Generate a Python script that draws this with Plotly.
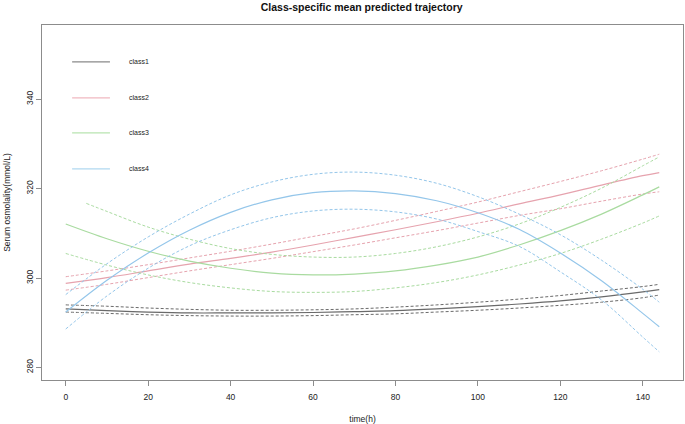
import plotly.graph_objects as go

# ---- data ----
time = [0, 10, 20, 30, 40, 50, 60, 70, 80, 90, 100, 110, 120, 130, 140, 144]

class1_mean  = [293.1, 292.7, 292.4, 292.2, 292.2, 292.2, 292.3, 292.5, 292.7, 293.1, 293.6, 294.2, 294.9, 295.8, 296.9, 297.4]
class1_upper = [294.0, 293.7, 293.3, 293.0, 292.8, 292.8, 292.9, 293.1, 293.5, 294.0, 294.6, 295.3, 296.1, 297.1, 298.1, 298.6]
class1_lower = [292.4, 292.1, 291.8, 291.6, 291.5, 291.5, 291.6, 291.8, 292.0, 292.4, 292.8, 293.3, 293.9, 294.6, 295.6, 296.2]

class2_mean  = [298.8, 300.1, 301.6, 303.1, 304.4, 305.8, 307.4, 309.1, 310.8, 312.6, 314.5, 316.6, 318.6, 320.8, 322.9, 323.6]
class2_upper = [300.3, 301.6, 303.0, 304.5, 306.0, 307.6, 309.3, 311.0, 312.9, 314.9, 317.0, 319.3, 321.6, 324.0, 326.6, 327.7]
class2_lower = [297.3, 298.6, 300.1, 301.6, 303.0, 304.4, 305.9, 307.4, 309.0, 310.6, 312.3, 314.0, 315.5, 317.2, 318.8, 319.3]

class3_mean  = [312.1, 308.8, 306.0, 303.8, 302.2, 301.1, 300.7, 300.9, 301.6, 302.9, 304.7, 307.4, 310.6, 314.3, 318.6, 320.4]
class3_upper_time = [5, 10, 20, 30, 40, 50, 60, 70, 80, 90, 100, 110, 120, 130, 140, 144]
class3_upper = [316.7, 314.9, 311.4, 308.7, 306.6, 305.3, 304.7, 304.7, 305.5, 307.0, 309.2, 312.1, 315.8, 320.1, 325.1, 327.1]
class3_lower = [305.5, 302.9, 300.7, 299.0, 297.8, 297.0, 296.8, 297.0, 297.8, 299.0, 300.7, 302.9, 305.5, 308.7, 312.3, 313.9]

class4_mean  = [292.4, 299.5, 305.6, 310.7, 314.7, 317.5, 319.1, 319.5, 318.9, 317.3, 314.6, 310.9, 305.6, 299.4, 292.1, 289.1]
class4_upper = [296.3, 303.2, 309.2, 314.3, 318.6, 321.5, 323.2, 323.7, 323.0, 321.2, 318.2, 314.3, 309.7, 304.0, 297.5, 294.6]
class4_lower = [288.6, 296.0, 302.2, 307.2, 310.8, 313.5, 315.0, 315.4, 314.8, 313.2, 310.4, 307.1, 301.4, 295.1, 286.8, 283.5]

class_names = ["class1", "class2", "class3", "class4"]
x_ticks = [0, 20, 40, 60, 80, 100, 120, 140]
y_ticks = [280, 300, 320, 340]

# ---- styles ----
colors = ["#6a6a6a", "#e6a3ae", "#a9dba0", "#94c6ea"]
legend_colors = ["#8a8a8a", "#f0b8c0", "#b8e4b0", "#b0d8f0"]
FONT = "Liberation Sans, Arial, sans-serif"
DASH = "3px,2px"

series = [
    (time, class1_mean, time, class1_upper, time, class1_lower),
    (time, class2_mean, time, class2_upper, time, class2_lower),
    (time, class3_mean, class3_upper_time, class3_upper, time, class3_lower),
    (time, class4_mean, time, class4_upper, time, class4_lower),
]

fig = go.Figure()
for i, (tm, m, tu, u, tl, l) in enumerate(series):
    c = colors[i]
    fig.add_trace(go.Scatter(x=tu, y=u, mode="lines", line=dict(color=c, width=1, dash=DASH, shape="spline"),
                             showlegend=False, hoverinfo="skip"))
    fig.add_trace(go.Scatter(x=tl, y=l, mode="lines", line=dict(color=c, width=1, dash=DASH, shape="spline"),
                             showlegend=False, hoverinfo="skip"))
    fig.add_trace(go.Scatter(x=tm, y=m, mode="lines", line=dict(color=c, width=1.2, shape="spline"),
                             name=class_names[i], showlegend=False))

# ---- manual legend (R-style) ----
leg_y = [0.896, 0.795, 0.696, 0.595]
for i, name in enumerate(class_names):
    fig.add_shape(type="line", xref="paper", yref="paper", x0=0.047, x1=0.106, y0=leg_y[i], y1=leg_y[i],
                  line=dict(color=legend_colors[i], width=1.2))
    fig.add_annotation(xref="paper", yref="paper", x=0.132, y=leg_y[i], text=name, showarrow=False,
                       xanchor="left", yanchor="middle", font=dict(family=FONT, size=7, color="#222"))

axis_common = dict(showgrid=False, zeroline=False, showline=True, mirror=True, linecolor="#8c8c8c",
                   linewidth=1, ticks="outside", ticklen=5, tickcolor="#8c8c8c", tickwidth=1,
                   automargin=False, tickfont=dict(family=FONT, size=8.5, color="#222"))

fig.update_layout(
    width=685, height=424,
    margin=dict(l=42, r=2, t=25, b=44),
    paper_bgcolor="white", plot_bgcolor="white",
    title=dict(text="<b>Class-specific mean predicted trajectory</b>", x=0.528, xanchor="center",
               y=0.983, yanchor="middle", font=dict(family=FONT, size=10.5, color="#111")),
    xaxis=dict(range=[-5.76, 149.76], tickvals=x_ticks, ticktext=[str(v) for v in x_ticks],
               title=dict(text="time(h)", standoff=18, font=dict(family=FONT, size=8.5, color="#222")),
               **axis_common),
    yaxis=dict(range=[277.2, 356.6], tickvals=y_ticks, ticktext=[str(v) for v in y_ticks], tickangle=-90,
               title=dict(text="Serum osmolality(mmol/L)", standoff=12, font=dict(family=FONT, size=8.5, color="#222")),
               **axis_common),
)
fig.update_xaxes(ticklabelstandoff=4)

fig.write_html("out.html", config={"displayModeBar": False},
               post_script="document.body.style.margin='0';document.body.style.padding='0';")
